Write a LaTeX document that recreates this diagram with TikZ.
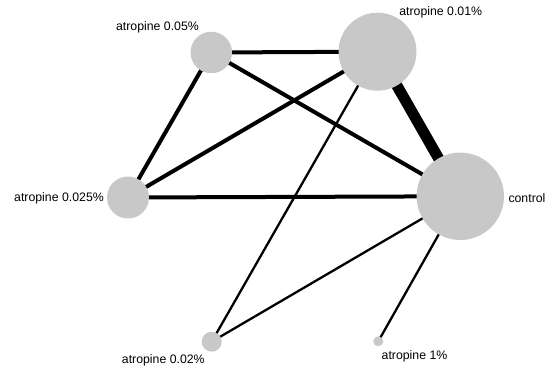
\documentclass[tikz,border=0pt]{standalone}
\usepackage{fontspec}
\setmainfont{Liberation Sans}
\usepackage{tikz}
\usetikzlibrary{backgrounds}

\begin{document}
\begin{tikzpicture}[line join=bevel,
  trt/.style={circle,fill=Gray,inner sep=0pt,minimum size=#1},
  lbl/.style={inner sep=0pt,font=\fontsize{12.3bp}{14bp}\selectfont},
  few/.style={line width=2.3bp},
  some/.style={line width=4bp},
  many/.style={line width=11bp},
  ]
\definecolor{Gray}{rgb}{0.784,0.784,0.784}
\useasboundingbox (0bp,0bp) rectangle (548bp,367bp);
%%
  \node (n005)  at (211.3bp,314.5bp) [trt=41.5bp] {};
  \node (n001)  at (377.5bp,315.3bp) [trt=78bp] {};
  \node (n0025) at (128.0bp,169.5bp) [trt=42bp] {};
  \node (ctrl)  at (460.3bp,170.7bp) [trt=87.4bp] {};
  \node (n002)  at (211.7bp,25.3bp)  [trt=20bp] {};
  \node (n1)    at (378.3bp,25.7bp)  [trt=10bp] {};

  \node (n005_lbl)  at (157.5bp,339.3bp) [lbl] {atropine 0.05\%};
  \node (n001_lbl)  at (440.7bp,355.0bp) [lbl] {atropine 0.01\%};
  \node (n0025_lbl) at (104.0bp,169.0bp) [lbl,anchor=east] {atropine 0.025\%};
  \node (ctrl_lbl)  at (508.3bp,169.0bp) [lbl,anchor=west] {control};
  \node (n002_lbl)  at (163.3bp,7.0bp)   [lbl] {atropine 0.02\%};
  \node (n1_lbl)    at (414.5bp,11.0bp)  [lbl] {atropine 1\%};

\begin{scope}[on background layer]
  \draw [some] (n005.center) -- (n001.center);
  \draw [some] (n005.center) -- (n0025.center);
  \draw [some] (n005.center) -- (ctrl.center);
  \draw [many] (n001.center) -- (ctrl.center);
  \draw [some] (n001.center) -- (n0025.center);
  \draw [few]  (n001.center) -- (n002.center);
  \draw [some] (n0025.center) -- (ctrl.center);
  \draw [few]  (ctrl.center) -- (n002.center);
  \draw [few]  (ctrl.center) -- (n1.center);
\end{scope}
%
\end{tikzpicture}
\end{document}
